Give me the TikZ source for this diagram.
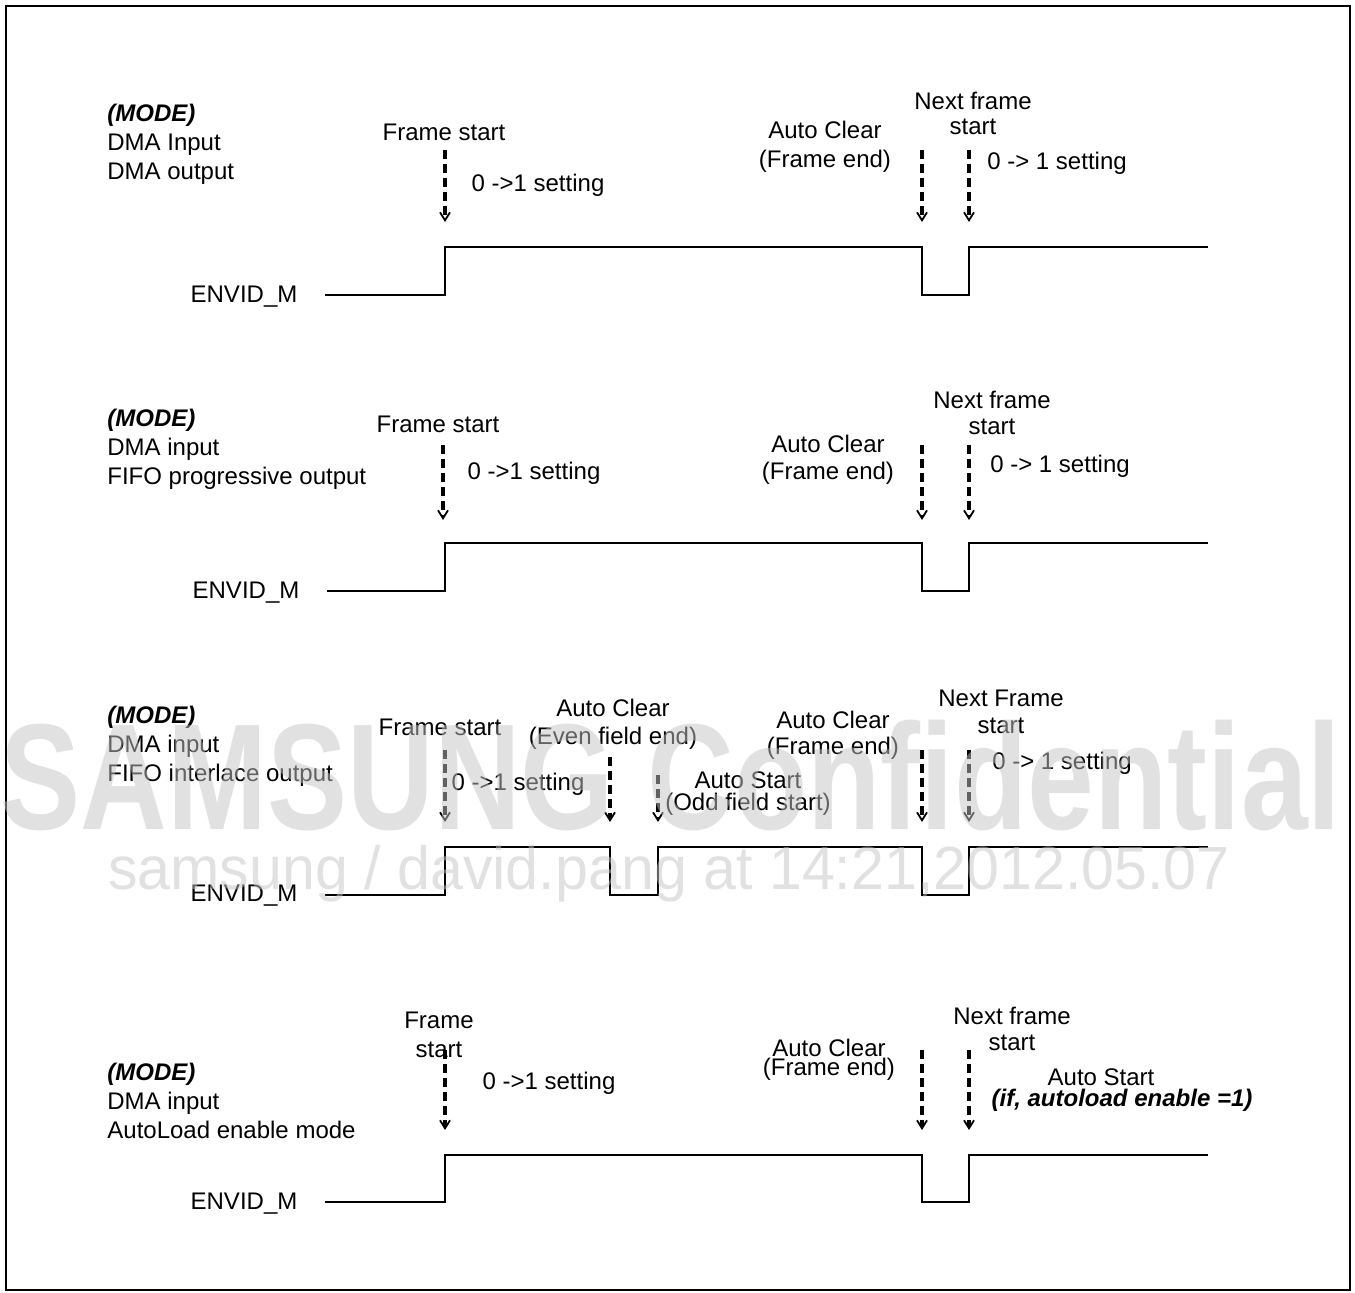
\documentclass[tikz,border=0pt]{standalone}
\usepackage{fontspec}
\setmainfont{Liberation Sans}
\usetikzlibrary{arrows.meta,positioning}

\begin{document}
\begin{tikzpicture}[
  x=0.5pt, y=-0.5pt,
  font=\fontsize{12}{14.5}\selectfont,
  lbl/.style ={inner sep=0pt, align=center},
  mode/.style={inner sep=0pt, align=left, anchor=north west},
  wave/.style={line width=1pt},
  evt/.style ={->, line width=1.6pt, dash pattern=on 4.5pt off 2.5pt},
  wm/.style  ={inner sep=0pt, text=black!23, text opacity=0.5},
  >={Straight Barb[length=4pt,width=5pt,line width=0.9pt]}]
\useasboundingbox (0,0) rectangle (1355,1293);
\draw[line width=1.2pt] (6,6) rectangle (1350,1290);

% DMA input / DMA output
\node[mode] (m1) at (107,104) {\textbf{\textit{(MODE)}}\\DMA Input\\DMA output};
\node[lbl] (fs1) at (444,132) {Frame start};
\node[lbl] (st1) at (538,185) {0 ->1 setting};
\node[lbl] (ac1) at (825,147) {Auto Clear\\(Frame end)};
\node[lbl] (nf1) at (973,113) {Next frame\\[-2pt]start};
\node[lbl] (st1b) at (1057,163) {0 -> 1 setting};
\node[lbl] (en1) at (244,297) {ENVID\_M};
\coordinate (t1a) at (445,150); \coordinate (b1a) at (445,222);
\coordinate (t1b) at (922,150); \coordinate (b1b) at (922,222);
\coordinate (t1c) at (969,150); \coordinate (b1c) at (969,222);
\draw[evt] (t1a) -- (b1a); \draw[evt] (t1b) -- (b1b); \draw[evt] (t1c) -- (b1c);
\draw[wave] (325,295) -| (445,247) -| (922,295) -| (969,247) -- (1208,247);

% DMA input / FIFO progressive output
\node[mode] (m2) at (107,409) {\textbf{\textit{(MODE)}}\\DMA input\\FIFO progressive output};
\node[lbl] (fs2) at (438,424) {Frame start};
\node[lbl] (st2) at (534,473) {0 ->1 setting};
\node[lbl] (ac2) at (828,460) {Auto Clear\\[-1pt](Frame end)};
\node[lbl] (nf2) at (992,413) {Next frame\\[-1.5pt]start};
\node[lbl] (st2b) at (1060,466) {0 -> 1 setting};
\node[lbl] (en2) at (246,593) {ENVID\_M};
\coordinate (t2a) at (443,445); \coordinate (b2a) at (443,520);
\coordinate (t2b) at (922,445); \coordinate (b2b) at (922,520);
\coordinate (t2c) at (969,445); \coordinate (b2c) at (969,520);
\draw[evt] (t2a) -- (b2a); \draw[evt] (t2b) -- (b2b); \draw[evt] (t2c) -- (b2c);
\draw[wave] (327,591) -| (445,543) -| (922,591) -| (969,543) -- (1208,543);

% DMA input / FIFO interlace output
\node[mode] (m3) at (107,706) {\textbf{\textit{(MODE)}}\\DMA input\\FIFO interlace output};
\node[lbl] (fs3) at (440,727) {Frame start};
\node[lbl] (st3) at (518,784) {0 ->1 setting};
\node[lbl] (ac3) at (613,724) {Auto Clear\\[-0.5pt](Even field end)};
\node[lbl] (as3) at (748,794) {Auto Start\\[-3.5pt](Odd field start)};
\node[lbl] (ac3b) at (833,735) {Auto Clear\\[-1.5pt](Frame end)};
\node[lbl] (nf3) at (1001,712) {Next Frame\\[-1pt]start};
\node[lbl] (st3b) at (1062,763) {0 -> 1 setting};
\node[lbl] (en3) at (244,896) {ENVID\_M};
\coordinate (t3a) at (445,750); \coordinate (b3a) at (445,822);
\coordinate (t3b) at (610,757); \coordinate (b3b) at (610,822);
\coordinate (t3c) at (658,775); \coordinate (b3c) at (658,822);
\coordinate (t3d) at (922,750); \coordinate (b3d) at (922,822);
\coordinate (t3e) at (969,750); \coordinate (b3e) at (969,822);
\draw[evt] (t3a) -- (b3a); \draw[evt] (t3b) -- (b3b); \draw[evt] (t3c) -- (b3c);
\draw[evt] (t3d) -- (b3d); \draw[evt] (t3e) -- (b3e);
\draw[wave] (325,895) -| (445,847) -| (610,895) -| (658,847) -| (922,895) -| (969,847) -- (1208,847);

% DMA input / AutoLoad enable mode
\node[mode] (m4) at (107,1063) {\textbf{\textit{(MODE)}}\\DMA input\\AutoLoad enable mode};
\node[lbl] (fs4) at (439,1035) {Frame\\start};
\node[lbl] (st4) at (549,1083) {0 ->1 setting};
\node[lbl] (ac4) at (829,1060) {Auto Clear\\[-5pt](Frame end)};
\node[lbl] (nf4) at (1012,1029) {Next frame\\[-1.5pt]start};
\node[lbl] (as4) at (1101,1077) {Auto Start};
\node[lbl] (if4) at (1122,1100) {\textbf{\textit{(if, autoload enable =1)}}};
\node[lbl] (en4) at (244,1204) {ENVID\_M};
\coordinate (t4a) at (445,1050); \coordinate (b4a) at (445,1130);
\coordinate (t4b) at (922,1050); \coordinate (b4b) at (922,1130);
\coordinate (t4c) at (969,1050); \coordinate (b4c) at (969,1130);
\draw[evt] (t4a) -- (b4a); \draw[evt] (t4b) -- (b4b); \draw[evt] (t4c) -- (b4c);
\draw[wave] (325,1202) -| (445,1155) -| (922,1202) -| (969,1155) -- (1208,1155);

% watermark
\node[wm, font=\fontsize{75.5}{80}\selectfont\bfseries] (wm1) at (671,776)
  {\scalebox{0.795}[1]{SAMSUNG Confidential}};
\node[wm, font=\fontsize{30.5}{32}\selectfont, anchor=base] (wm2) at (669,890)
  {\scalebox{0.97}[1]{samsung / david.pang at 14:21,2012.05.07}};
\end{tikzpicture}
\end{document}
